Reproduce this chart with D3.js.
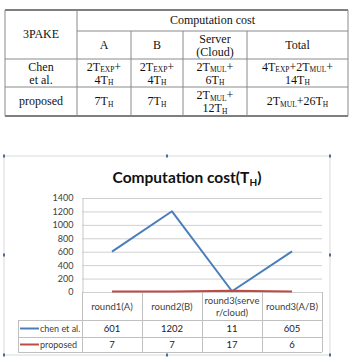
<!DOCTYPE html>
<html>
<head>
<meta charset="utf-8">
<script src="https://cdn.jsdelivr.net/npm/d3@7"></script>
<style>
body { margin: 0; background: #fff; }
svg { display: block; }
</style>
</head>
<body>
<svg id="svg" width="350" height="359"></svg>
<script>
// table at top
var tableHead = ["3PAKE", "Computation cost"];
var tableCols = ["A", "B", "Server\n(Cloud)", "Total"];
var tableRows = [
    ["Chen\net al.", "2T_EXP+\n4T_H", "2T_EXP+\n4T_H", "2T_MUL+\n6T_H", "4T_EXP+2T_MUL+\n14T_H"],
    ["proposed", "7T_H", "7T_H", "2T_MUL+\n12T_H", "2T_MUL+26T_H"]
];

// chart
var categories = ["round1(A)", "round2(B)", "round3(serve\nr/cloud)", "round3(A/B)"];
var chenVals = [601, 1202, 11, 605];
var proposedVals = [7, 7, 17, 6];
var seriesNames = ["chen et al.", "proposed"];
var yTicks = [0, 200, 400, 600, 800, 1000, 1200, 1400];

var svg = d3.select("#svg");

// ---------- table ----------
var colX = [5, 77, 131, 183, 247, 348];
var rowY = [10, 31, 59, 87, 116];
var tbl = svg.append("g").attr("id", "table");

function cellText(g, str, cx, cy) {
    var lines = str.split("\n");
    lines.forEach(function(line, i) {
        var base = lines.length == 1 ? cy + 3.5 : cy - 2.5 + 13 * i;
        var t = g.append("text")
            .attr("x", cx).attr("y", base)
            .attr("text-anchor", "middle")
            .attr("font-family", "Liberation Serif, Times New Roman, serif")
            .attr("font-size", "12px")
            .attr("fill", "#111");
        // T_EXP -> T with subscript EXP
        var parts = line.split(/_(EXP|MUL|H)/);
        var shift = 0;
        parts.forEach(function(p, j) {
            if (p === "") return;
            if (j % 2 == 1) {
                t.append("tspan").attr("font-size", "7.5px").attr("dy", 1.5).text(p);
                shift = -1.5;
            } else {
                t.append("tspan").attr("dy", shift).text(p);
                shift = 0;
            }
        });
    });
}

var lineCol = "#8a8a8a";
tbl.append("line").attr("x1", colX[0]).attr("x2", colX[5]).attr("y1", rowY[0]).attr("y2", rowY[0])
    .attr("stroke", "#555").attr("stroke-width", 1.6);
tbl.append("line").attr("x1", colX[0]).attr("x2", colX[5]).attr("y1", rowY[4]).attr("y2", rowY[4])
    .attr("stroke", "#555").attr("stroke-width", 1.6);
tbl.append("line").attr("x1", colX[1]).attr("x2", colX[5]).attr("y1", rowY[1]).attr("y2", rowY[1])
    .attr("stroke", lineCol);
[2, 3].forEach(function(r) {
    tbl.append("line").attr("x1", colX[0]).attr("x2", colX[5]).attr("y1", rowY[r]).attr("y2", rowY[r])
        .attr("stroke", lineCol);
});
[0, 1, 5].forEach(function(c) {
    tbl.append("line").attr("x1", colX[c]).attr("x2", colX[c]).attr("y1", rowY[0]).attr("y2", rowY[4])
        .attr("stroke", lineCol);
});
[2, 3, 4].forEach(function(c) {
    tbl.append("line").attr("x1", colX[c]).attr("x2", colX[c]).attr("y1", rowY[1]).attr("y2", rowY[4])
        .attr("stroke", lineCol);
});

cellText(tbl, tableHead[0], (colX[0] + colX[1]) / 2, (rowY[0] + rowY[2]) / 2);
cellText(tbl, tableHead[1], (colX[1] + colX[5]) / 2, (rowY[0] + rowY[1]) / 2);
tableCols.forEach(function(c, i) {
    cellText(tbl, c, (colX[i + 1] + colX[i + 2]) / 2, (rowY[1] + rowY[2]) / 2);
});
tableRows.forEach(function(row, r) {
    row.forEach(function(c, i) {
        cellText(tbl, c, (colX[i] + colX[i + 1]) / 2, (rowY[r + 2] + rowY[r + 3]) / 2);
    });
});

// ---------- chart ----------
var chart = svg.append("g").attr("id", "chart");
var frame = {x0: 4, x1: 330, y0: 156, y1: 355};

chart.append("rect")
    .attr("x", frame.x0).attr("y", frame.y0)
    .attr("width", frame.x1 - frame.x0).attr("height", frame.y1 - frame.y0)
    .attr("fill", "#fff").attr("stroke", "#d9d9d9");

// selection handles
var handles = [[frame.x0, frame.y0], [(frame.x0 + frame.x1) / 2, frame.y0], [frame.x1, frame.y0],
    [frame.x0, 255], [frame.x1, 255],
    [frame.x0, frame.y1], [(frame.x0 + frame.x1) / 2, frame.y1], [frame.x1, frame.y1]];
chart.selectAll("rect.h").data(handles).enter().append("rect")
    .attr("class", "h")
    .attr("x", function(d) { return d[0] - 1; })
    .attr("y", function(d) { return d[1] - 1.5; })
    .attr("width", 2).attr("height", 3)
    .attr("fill", "#4e6a9c");

var title = chart.append("text")
    .attr("x", 187).attr("y", 183)
    .attr("text-anchor", "middle")
    .attr("font-family", "Lato, sans-serif")
    .attr("font-weight", "bold")
    .attr("font-size", "15.5px")
    .attr("fill", "#111");
title.append("tspan").text("Computation cost(T");
title.append("tspan").attr("font-size", "10px").attr("dy", 3).text("H");
title.append("tspan").attr("dy", -3).text(")");

var x = d3.scaleBand().domain(categories).range([82, 322]);
var y = d3.scaleLinear().domain([0, 1400]).range([292, 198]);

chart.selectAll("line.grid").data(yTicks).enter().append("line")
    .attr("class", "grid")
    .attr("x1", 82).attr("x2", 322)
    .attr("y1", function(d) { return y(d) + 0.5; })
    .attr("y2", function(d) { return y(d) + 0.5; })
    .attr("stroke", "#d0d0d0");

var yAxis = d3.axisLeft(y).tickValues(yTicks).tickFormat(d3.format("d")).tickSize(0).tickPadding(9);
var ya = chart.append("g").attr("transform", "translate(82.5,0)").call(yAxis);
ya.select(".domain").attr("stroke", "#c8c8c8");
ya.selectAll("text")
    .attr("font-family", "Lato, sans-serif")
    .attr("font-size", "9px")
    .attr("fill", "#404040");

// data table under the plot
var tableLine = "#c0c0c0";
var dtY = [292, 320, 337, 352];
var legX = 18;
chart.selectAll("line.dv").data(d3.range(categories.length + 1)).enter().append("line")
    .attr("class", "dv")
    .attr("x1", function(i) { return 82.5 + i * x.bandwidth(); })
    .attr("x2", function(i) { return 82.5 + i * x.bandwidth(); })
    .attr("y1", dtY[0]).attr("y2", dtY[3])
    .attr("stroke", tableLine);
chart.append("line").attr("x1", legX + 0.5).attr("x2", legX + 0.5).attr("y1", dtY[1]).attr("y2", dtY[3])
    .attr("stroke", tableLine);
[1, 2, 3].forEach(function(r) {
    chart.append("line").attr("x1", legX).attr("x2", 322).attr("y1", dtY[r] + 0.5).attr("y2", dtY[r] + 0.5)
        .attr("stroke", tableLine);
});

categories.forEach(function(c) {
    var lines = c.split("\n");
    lines.forEach(function(l, i) {
        chart.append("text")
            .attr("x", x(c) + x.bandwidth() / 2)
            .attr("y", (dtY[0] + dtY[1]) / 2 + 3.5 + (i - (lines.length - 1) / 2) * 12)
            .attr("text-anchor", "middle")
            .attr("font-family", "Lato, sans-serif")
            .attr("font-size", "9.5px")
            .attr("fill", "#404040")
            .text(l);
    });
});

var series = [
    {name: seriesNames[0], values: chenVals, color: "#4a7ebb"},
    {name: seriesNames[1], values: proposedVals, color: "#be4b48"}
];

series.forEach(function(s, r) {
    var cy = (dtY[r + 1] + dtY[r + 2]) / 2;
    chart.append("line").attr("x1", 20).attr("x2", 39).attr("y1", cy).attr("y2", cy)
        .attr("stroke", s.color).attr("stroke-width", 2);
    chart.append("text").attr("x", 40).attr("y", cy + 3.5)
        .attr("font-family", "Lato, sans-serif")
        .attr("font-size", "9px")
        .attr("fill", "#404040")
        .text(s.name);
    chart.selectAll("text.v" + r).data(s.values).enter().append("text")
        .attr("class", "v" + r)
        .attr("x", function(d, i) { return x(categories[i]) + x.bandwidth() / 2; })
        .attr("y", cy + 3.5)
        .attr("text-anchor", "middle")
        .attr("font-family", "Lato, sans-serif")
        .attr("font-size", "9.5px")
        .attr("fill", "#222")
        .text(function(d) { return d; });
});

var line = d3.line()
    .x(function(d, i) { return x(categories[i]) + x.bandwidth() / 2; })
    .y(function(d) { return y(d); });

series.forEach(function(s) {
    chart.append("path")
        .datum(s.values)
        .attr("d", line)
        .attr("fill", "none")
        .attr("stroke", s.color)
        .attr("stroke-width", 2)
        .attr("stroke-linejoin", "round");
});
</script>
</body>
</html>
